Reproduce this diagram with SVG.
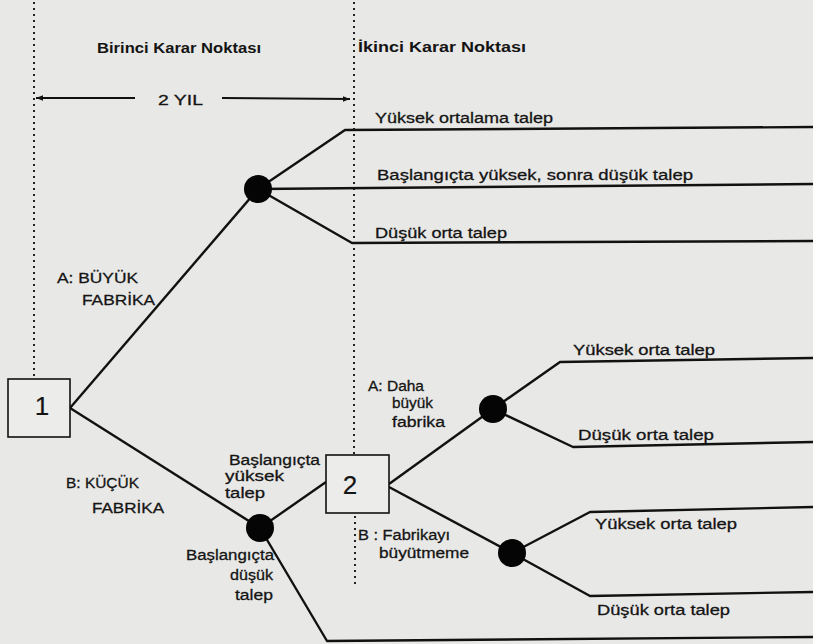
<svg xmlns="http://www.w3.org/2000/svg" width="813" height="644" viewBox="0 0 813 644">
  <defs>
    <marker id="arrow" viewBox="0 0 10 10" refX="10" refY="5" markerWidth="9" markerHeight="7" orient="auto" markerUnits="userSpaceOnUse">
      <path d="M0,1 L10,5 L0,9 Z" fill="#111"/>
    </marker>
    <style>
      .bg { fill: #e8e8e6; }
      .edge { stroke: #111; stroke-width: 2.4; fill: none; stroke-linejoin: round; }
      .guide { stroke: #222; stroke-width: 2; stroke-dasharray: 2 4; fill: none; }
      .box { fill: #ececea; stroke: #111; stroke-width: 1.6; }
      .chance { fill: #050505; }
      text { font-family: "Liberation Sans", Arial, sans-serif; fill: #141414; stroke: #141414; stroke-width: 0.3; }
      .lbl { font-size: 15.5px; }
      .hdr { font-size: 14.5px; font-weight: bold; stroke-width: 0; }
      .num { font-size: 26px; stroke-width: 0.2; }
    </style>
  </defs>

  <rect class="bg" x="0" y="0" width="813" height="644"/>

  <!-- time-frame guides -->
  <g id="guides">
    <line class="guide" x1="34" y1="2" x2="34" y2="378"/>
    <line class="guide" x1="354" y1="2" x2="354" y2="454"/>
    <line class="guide" x1="355" y1="516" x2="355" y2="586"/>
    <text class="hdr" x="97" y="53" textLength="164" lengthAdjust="spacingAndGlyphs">Birinci Karar Noktası</text>
    <text class="hdr" x="358" y="52" textLength="168" lengthAdjust="spacingAndGlyphs">İkinci Karar Noktası</text>
    <line class="edge" x1="135" y1="98" x2="36" y2="98" marker-end="url(#arrow)" style="stroke-width:1.8"/>
    <line class="edge" x1="222" y1="98" x2="350" y2="99" marker-end="url(#arrow)" style="stroke-width:1.8"/>
    <text class="lbl" x="158" y="105" textLength="45" lengthAdjust="spacingAndGlyphs">2 YIL</text>
  </g>

  <!-- connectors -->
  <g id="connectors">
    <polyline class="edge" points="70,408 258,189"/>
    <polyline class="edge" points="70,408 260,528"/>
    <polyline class="edge" points="258,189 345,130 813,127"/>
    <polyline class="edge" points="258,189 813,184"/>
    <polyline class="edge" points="258,189 352,243 813,241"/>
    <polyline class="edge" points="260,528 326,482"/>
    <polyline class="edge" points="260,528 327,641 813,637"/>
    <polyline class="edge" points="389,484 493,409"/>
    <polyline class="edge" points="389,487 512,553"/>
    <polyline class="edge" points="493,409 560,362 813,358"/>
    <polyline class="edge" points="493,409 573,447 813,442"/>
    <polyline class="edge" points="512,553 590,512 813,507"/>
    <polyline class="edge" points="512,553 590,596 813,592"/>
  </g>

  <!-- decision node 1 -->
  <g id="decision1">
    <rect class="box" x="8" y="379" width="62" height="58"/>
    <text class="num" x="42" y="415" text-anchor="middle">1</text>
  </g>

  <!-- decision node 2 -->
  <g id="decision2">
    <rect class="box" x="326" y="455" width="63" height="58"/>
    <text class="num" x="350" y="494" text-anchor="middle">2</text>
  </g>

  <!-- chance nodes -->
  <g id="chanceLarge">
    <circle class="chance" cx="258" cy="189" r="14"/>
  </g>
  <g id="chanceSmall">
    <circle class="chance" cx="260" cy="528" r="14"/>
  </g>
  <g id="chanceExpand">
    <circle class="chance" cx="493" cy="409" r="14"/>
  </g>
  <g id="chanceKeep">
    <circle class="chance" cx="512" cy="553" r="14"/>
  </g>

  <!-- branch labels -->
  <g id="labels">
    <text class="lbl" x="375" y="123" textLength="178" lengthAdjust="spacingAndGlyphs">Yüksek ortalama talep</text>
    <text class="lbl" x="377" y="180" textLength="316" lengthAdjust="spacingAndGlyphs">Başlangıçta yüksek, sonra düşük talep</text>
    <text class="lbl" x="375" y="238" textLength="132" lengthAdjust="spacingAndGlyphs">Düşük orta talep</text>

    <text class="lbl" x="57" y="283" textLength="81" lengthAdjust="spacingAndGlyphs">A: BÜYÜK</text>
    <text class="lbl" x="82" y="305" textLength="73" lengthAdjust="spacingAndGlyphs">FABRİKA</text>
    <text class="lbl" x="66" y="488" textLength="73" lengthAdjust="spacingAndGlyphs">B: KÜÇÜK</text>
    <text class="lbl" x="92" y="513" textLength="72" lengthAdjust="spacingAndGlyphs">FABRİKA</text>

    <text class="lbl" x="229" y="465" textLength="91" lengthAdjust="spacingAndGlyphs">Başlangıçta</text>
    <text class="lbl" x="225" y="481" textLength="59" lengthAdjust="spacingAndGlyphs">yüksek</text>
    <text class="lbl" x="225" y="498" textLength="40" lengthAdjust="spacingAndGlyphs">talep</text>

    <text class="lbl" x="186" y="560" textLength="88" lengthAdjust="spacingAndGlyphs">Başlangıçta</text>
    <text class="lbl" x="230" y="580" textLength="43" lengthAdjust="spacingAndGlyphs">düşük</text>
    <text class="lbl" x="235" y="600" textLength="38" lengthAdjust="spacingAndGlyphs">talep</text>

    <text class="lbl" x="368" y="391" textLength="56" lengthAdjust="spacingAndGlyphs">A: Daha</text>
    <text class="lbl" x="392" y="408" textLength="41" lengthAdjust="spacingAndGlyphs">büyük</text>
    <text class="lbl" x="392" y="427" textLength="53" lengthAdjust="spacingAndGlyphs">fabrika</text>

    <text class="lbl" x="358" y="540" textLength="92" lengthAdjust="spacingAndGlyphs">B : Fabrikayı</text>
    <text class="lbl" x="379" y="558" textLength="90" lengthAdjust="spacingAndGlyphs">büyütmeme</text>

    <text class="lbl" x="573" y="355" textLength="142" lengthAdjust="spacingAndGlyphs">Yüksek orta talep</text>
    <text class="lbl" x="578" y="440" textLength="136" lengthAdjust="spacingAndGlyphs">Düşük orta talep</text>
    <text class="lbl" x="595" y="529" textLength="142" lengthAdjust="spacingAndGlyphs">Yüksek orta talep</text>
    <text class="lbl" x="597" y="615" textLength="133" lengthAdjust="spacingAndGlyphs">Düşük orta talep</text>
  </g>
</svg>
